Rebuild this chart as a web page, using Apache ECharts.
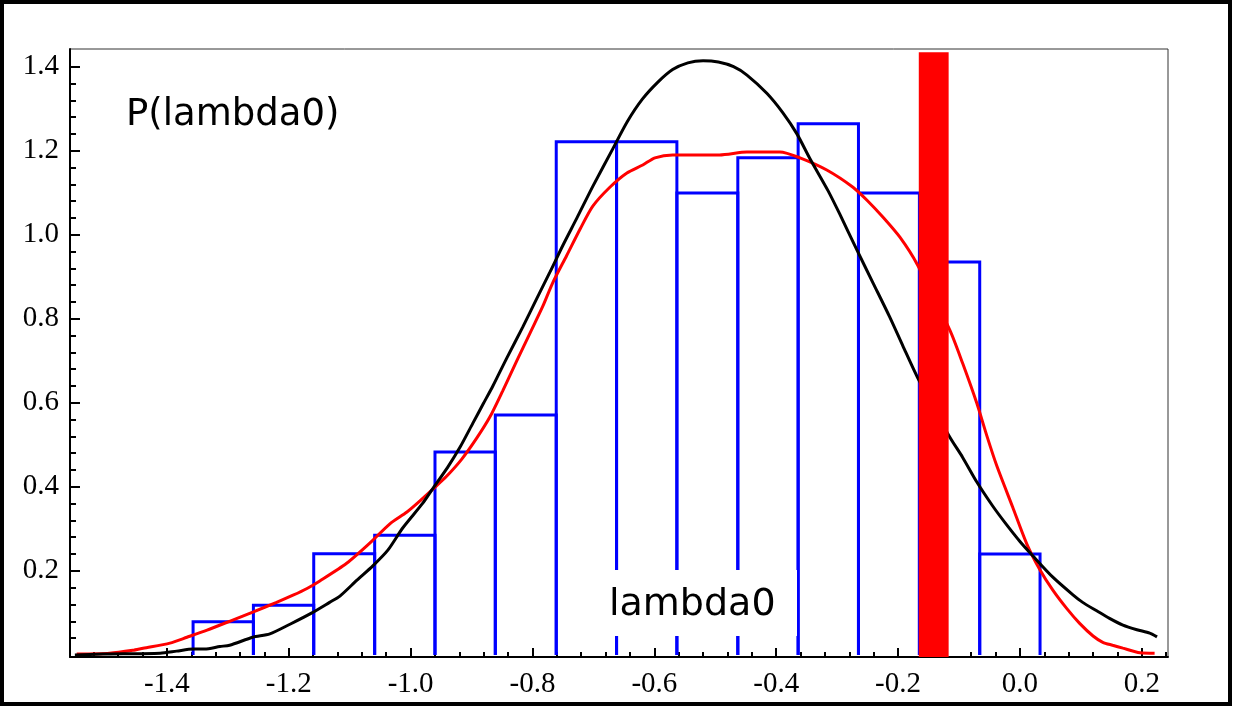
<!DOCTYPE html>
<html>
<head>
<meta charset="utf-8">
<script src="https://cdn.jsdelivr.net/npm/echarts@6.0.0/dist/echarts.min.js"></script>
<style>
    html, body { margin: 0; padding: 0; background: #fff; }
    #chart { width: 1233px; height: 706px; }
</style>
</head>
<body>
<div id="chart"></div>
<script>
//  axis ranges and tick labels
var xRange = [-1.559, 0.243];
var yRange = [-0.005, 1.442];
var xTickLabels = [-1.4, -1.2, -1.0, -0.8, -0.6, -0.4, -0.2, 0.0, 0.2];
var yTickLabels = [0.2, 0.4, 0.6, 0.8, 1.0, 1.2, 1.4];

//  histogram of lambda0 (bin edges + heights)
var binEdges = [-1.357, -1.258, -1.159, -1.059, -0.960, -0.861, -0.761, -0.662,
                -0.563, -0.463, -0.364, -0.265, -0.165, -0.066, 0.033];
var binHeights = [0.079, 0.118, 0.241, 0.285, 0.483, 0.571, 1.221,
                  1.221, 1.099, 1.183, 1.264, 1.099, 0.935, 0.240];

//  black curve
var blackCurve = [
    [-1.551, 0.0], [-1.505, 0.002], [-1.411, 0.004], [-1.384, 0.009], [-1.357, 0.014],
    [-1.338, 0.014], [-1.313, 0.020], [-1.297, 0.023], [-1.259, 0.042], [-1.231, 0.050],
    [-1.198, 0.073], [-1.162, 0.100], [-1.133, 0.125], [-1.116, 0.140], [-1.088, 0.178],
    [-1.062, 0.212], [-1.037, 0.250], [-1.013, 0.302], [-0.980, 0.361], [-0.963, 0.397],
    [-0.939, 0.447], [-0.919, 0.494], [-0.898, 0.551], [-0.881, 0.597], [-0.865, 0.640],
    [-0.842, 0.707], [-0.816, 0.780], [-0.793, 0.848], [-0.771, 0.912], [-0.750, 0.975],
    [-0.727, 1.040], [-0.701, 1.115], [-0.668, 1.205], [-0.644, 1.270], [-0.620, 1.322],
    [-0.595, 1.362], [-0.570, 1.393], [-0.545, 1.409], [-0.520, 1.414], [-0.495, 1.411],
    [-0.470, 1.400], [-0.448, 1.380], [-0.415, 1.336], [-0.389, 1.290], [-0.366, 1.240],
    [-0.345, 1.182], [-0.315, 1.105], [-0.296, 1.050], [-0.268, 0.965], [-0.241, 0.885],
    [-0.214, 0.805], [-0.192, 0.735], [-0.168, 0.660], [-0.140, 0.585], [-0.115, 0.518],
    [-0.094, 0.470], [-0.071, 0.412], [-0.045, 0.355], [-0.022, 0.310], [0.000, 0.270],
    [0.021, 0.236], [0.054, 0.185], [0.087, 0.143], [0.103, 0.125], [0.126, 0.105],
    [0.147, 0.087], [0.169, 0.071], [0.192, 0.060], [0.213, 0.052], [0.225, 0.043]
];

//  red curve
var redCurve = [
    [-1.548, 0.002], [-1.494, 0.004], [-1.456, 0.011], [-1.439, 0.016], [-1.395, 0.028],
    [-1.367, 0.042], [-1.334, 0.059], [-1.292, 0.083], [-1.259, 0.102], [-1.220, 0.125],
    [-1.193, 0.142], [-1.170, 0.158], [-1.149, 0.176], [-1.105, 0.218], [-1.067, 0.266],
    [-1.034, 0.312], [-1.006, 0.340], [-0.985, 0.366], [-0.963, 0.395], [-0.941, 0.425],
    [-0.916, 0.466], [-0.891, 0.517], [-0.870, 0.566], [-0.849, 0.628], [-0.826, 0.699],
    [-0.804, 0.766], [-0.783, 0.830], [-0.767, 0.885], [-0.744, 0.950], [-0.722, 1.013],
    [-0.701, 1.068], [-0.673, 1.113], [-0.645, 1.147], [-0.619, 1.166], [-0.599, 1.183],
    [-0.570, 1.190], [-0.493, 1.190], [-0.448, 1.197], [-0.394, 1.197], [-0.361, 1.183],
    [-0.317, 1.154], [-0.274, 1.113], [-0.251, 1.082], [-0.225, 1.042], [-0.197, 0.994],
    [-0.168, 0.928], [-0.115, 0.773], [-0.094, 0.694], [-0.071, 0.600], [-0.054, 0.520],
    [-0.038, 0.450], [-0.012, 0.352], [0.011, 0.265], [0.033, 0.202], [0.054, 0.154],
    [0.077, 0.110], [0.098, 0.075], [0.120, 0.045], [0.136, 0.030], [0.152, 0.023],
    [0.169, 0.016], [0.197, 0.005], [0.221, 0.004]
];

//  red band: [x start, x end, top]
var redBand = [-0.166, -0.117, 1.434];

//  minor tick positions (every 0.04, skipping the labelled ones)
function minorTicks(from, to, majors) {
    var out = [];
    for (var v = from; v <= to + 1e-9; v += 0.04) {
        var r = Math.round(v * 100) / 100;
        var isMajor = majors.some(function (m) { return Math.abs(m - r) < 1e-6; });
        if (!isMajor) out.push(r);
    }
    return out;
}
var xMinor = minorTicks(-1.52, 0.24, xTickLabels);
var yMinor = minorTicks(0.04, 1.40, yTickLabels);

var serifFont = 'Liberation Serif';
var sansFont = 'DejaVu Sans';

var chart = echarts.init(document.getElementById('chart'));

var bins = binHeights.map(function (h, i) {
    return [binEdges[i], binEdges[i + 1], h];
});

var tickStyle = { color: '#000', width: 2 };

var option = {
    animation: false,
    backgroundColor: '#fff',
    grid: {
        left: 70, right: 65, top: 49, bottom: 49,
        show: true,
        borderColor: '#333',
        borderWidth: 1,
        backgroundColor: 'transparent'
    },
    xAxis: [
        {
            type: 'value',
            min: xRange[0], max: xRange[1],
            position: 'bottom',
            axisLine: { show: true, onZero: false, lineStyle: { color: '#000', width: 2 } },
            splitLine: { show: false },
            axisTick: { show: true, inside: true, length: 9, customValues: xTickLabels, lineStyle: tickStyle },
            axisLabel: {
                customValues: xTickLabels,
                margin: 13,
                color: '#000',
                fontFamily: serifFont,
                fontSize: 29,
                formatter: function (v) { return v.toFixed(1); }
            }
        },
        {
            type: 'value',
            min: xRange[0], max: xRange[1],
            position: 'bottom',
            axisLine: { show: false, onZero: false },
            splitLine: { show: false },
            axisLabel: { show: false },
            axisTick: { show: true, inside: true, length: 5, customValues: xMinor, lineStyle: tickStyle }
        }
    ],
    yAxis: [
        {
            type: 'value',
            min: yRange[0], max: yRange[1],
            position: 'left',
            axisLine: { show: true, onZero: false, lineStyle: { color: '#000', width: 2 } },
            splitLine: { show: false },
            axisTick: { show: true, inside: true, length: 10, customValues: yTickLabels, lineStyle: tickStyle },
            axisLabel: {
                customValues: yTickLabels,
                margin: 11,
                color: '#000',
                fontFamily: serifFont,
                fontSize: 29,
                formatter: function (v) { return v.toFixed(1); }
            }
        },
        {
            type: 'value',
            min: yRange[0], max: yRange[1],
            position: 'left',
            axisLine: { show: false, onZero: false },
            splitLine: { show: false },
            axisLabel: { show: false },
            axisTick: { show: true, inside: true, length: 6, customValues: yMinor, lineStyle: tickStyle }
        }
    ],
    series: [
        {
            //  histogram outline: left side, top, right side (no bottom edge)
            name: 'histogram',
            type: 'custom',
            z: 2,
            data: bins,
            renderItem: function (params, api) {
                var a = api.coord([api.value(0), 0]);
                var b = api.coord([api.value(0), api.value(2)]);
                var c = api.coord([api.value(1), api.value(2)]);
                var d = api.coord([api.value(1), 0]);
                return {
                    type: 'polyline',
                    shape: { points: [a, b, c, d] },
                    style: { fill: 'none', stroke: '#0000ff', lineWidth: 3, lineJoin: 'miter' }
                };
            }
        },
        {
            name: 'red',
            type: 'line',
            z: 3,
            data: redCurve,
            showSymbol: false,
            smooth: 0.25,
            lineStyle: { color: '#ff0000', width: 3 }
        },
        {
            name: 'black',
            type: 'line',
            z: 4,
            data: blackCurve,
            showSymbol: false,
            smooth: 0.25,
            lineStyle: { color: '#000000', width: 3 }
        },
        {
            name: 'band',
            type: 'custom',
            z: 5,
            data: [redBand],
            renderItem: function (params, api) {
                var p0 = api.coord([api.value(0), api.value(2)]);
                var p1 = api.coord([api.value(1), yRange[0]]);
                return {
                    type: 'rect',
                    shape: { x: p0[0], y: p0[1], width: p1[0] - p0[0], height: p1[1] - p0[1] },
                    style: { fill: '#ff0000' }
                };
            }
        }
    ],
    graphic: [
        {
            type: 'rect', z: 100, silent: true,
            shape: { x: 2, y: 2, width: 1228, height: 702 },
            style: { fill: 'none', stroke: '#000', lineWidth: 4 }
        },
        {
            type: 'text', z: 100, left: 126, top: 97,
            style: { text: 'P(lambda0)', font: '37px "' + sansFont + '"', fill: '#000' }
        },
        {
            type: 'group', z: 100, left: 598, top: 570,
            children: [
                { type: 'rect', z: 100, shape: { x: 0, y: 0, width: 199, height: 66 },
                  style: { fill: '#fff' } },
                { type: 'text', z: 101, x: 11, y: 16,
                  style: { text: 'lambda0', font: '38px "' + sansFont + '"', fill: '#000' } }
            ]
        }
    ]
};
chart.setOption(option);
</script>
</body>
</html>
